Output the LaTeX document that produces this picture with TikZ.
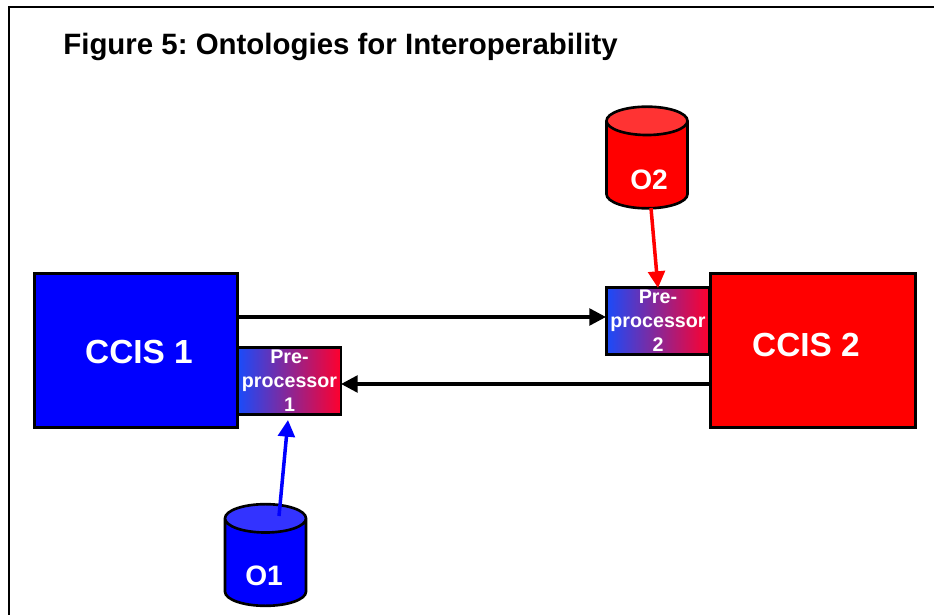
\documentclass[tikz,border=0pt]{standalone}
\usepackage{fontspec}
\setmainfont{Liberation Sans}
\usetikzlibrary{shapes.geometric}
\usetikzlibrary{arrows.meta}

\definecolor{ccisblue}{RGB}{0,0,255}
\definecolor{ccisred}{RGB}{255,0,0}
\definecolor{gradblue}{RGB}{26,75,250}
\definecolor{gradmid}{RGB}{155,60,175}
\definecolor{gradred}{RGB}{255,0,45}
\definecolor{topblue}{RGB}{51,51,255}
\definecolor{topred}{RGB}{255,51,51}

\tikzset{
    ccisbox/.style={draw=black, line width=1.7pt, fill=#1, inner sep=0pt, outer sep=0pt,
        minimum height=3.1cm},
    prebox/.style={draw=black, line width=1.5pt, left color=gradblue, middle color=gradmid, right color=gradred,
        inner sep=0pt, outer sep=0pt, minimum width=2.06cm, minimum height=1.33cm,
        text=white, align=center, font=\fontsize{11.2}{13.6}\selectfont\bfseries},
    store/.style={cylinder, shape border rotate=90, aspect=0.35, draw=black, line width=1.5pt,
        cylinder uses custom fill, cylinder body fill=#1, inner xsep=0.81cm, inner ysep=0.72cm,
        outer sep=0pt, anchor=shape center},
    whitetext/.style={text=white, inner sep=0pt, font=\fontsize{#1}{#1}\selectfont\bfseries},
    flow/.style={draw=#1, line width=2pt, -{Triangle[length=9.5pt,width=9.5pt]}}
}

\begin{document}
\begin{tikzpicture}[x=0.02cm, y=-0.02cm]
    \useasboundingbox (0,0) rectangle (934,615);

    \coordinate (frametop) at (934,7);
    \coordinate (framecorner) at (9,7);
    \coordinate (framebottom) at (9,615);
    \draw[line width=1.7pt] (framebottom) -- (framecorner) -- (frametop);
    \node[anchor=west, inner sep=0pt, font=\frenchspacing\fontsize{16.75}{18}\selectfont\bfseries] (title) at (63,47)
        {Figure 5: Ontologies for Interoperability};

    \node[ccisbox=ccisblue, minimum width=4.06cm] (ccis1) at (136,350.5) {};
    \node[ccisbox=ccisred, minimum width=4.12cm] (ccis2) at (813,350.5) {};
    \node[whitetext=19] (ccis1text) at (139,352) {CCIS 1};
    \node[whitetext=19] (ccis2text) at (806,345) {CCIS 2};

    \node[prebox] (pre1) at (289.5,381) {Pre-\\processor\\1};
    \node[prebox] (pre2) at (658,321) {Pre-\\processor\\2};

    \node[store=ccisblue, cylinder end fill=topblue] (o1) at (265.5,555) {};
    \node[store=ccisred, cylinder end fill=topred] (o2) at (647,157.5) {};
    \node[whitetext=16] (o1text) at (264,576) {O1};
    \node[whitetext=16] (o2text) at (649,180) {O2};

    \coordinate (toppre2) at (606,317);
    \coordinate (topre1) at (341,384);
    \coordinate (o1start) at (279,516);
    \coordinate (o1end) at (288,420);
    \coordinate (o2start) at (651,208);
    \coordinate (o2end) at (658,288);

    \draw[flow=black] (ccis1.east |- toppre2) -- (toppre2);
    \draw[flow=black] (ccis2.west |- topre1) -- (topre1);
    \draw[flow=ccisblue] (o1start) -- (o1end);
    \draw[flow=ccisred] (o2start) -- (o2end);
\end{tikzpicture}
\end{document}
